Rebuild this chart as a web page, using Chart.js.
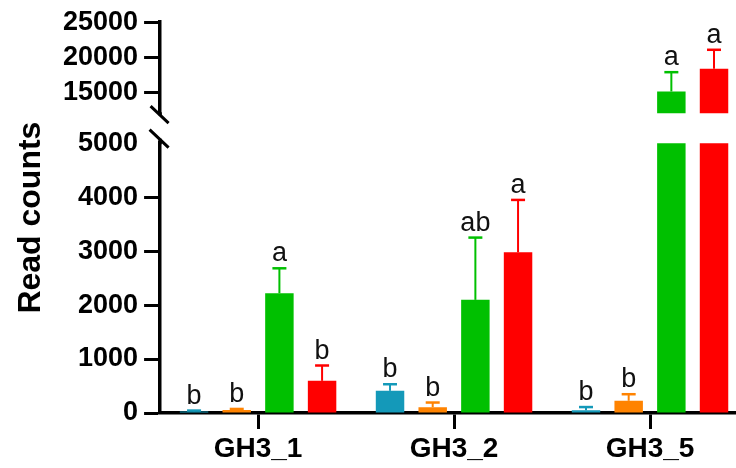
<!DOCTYPE html>
<html>
<head>
<meta charset="utf-8">
<script src="https://cdn.jsdelivr.net/npm/chart.js@4.4.1/dist/chart.umd.min.js"></script>
<style>
  html, body { margin: 0; padding: 0; background: #fff; overflow: hidden; }
  #wrap { width: 752px; height: 468px; }
</style>
</head>
<body>
<div id="wrap"><canvas id="myChart"></canvas></div>
<script>
// data
var categories = ["GH3_1", "GH3_2", "GH3_5"];

var teal = [30, 411, 50];
var tealErr = [15, 122, 60];
var tealSig = ["b", "b", "b"];

var orange = [55, 107, 226];
var orangeErr = [20, 87, 122];
var orangeSig = ["b", "b", "b"];

var green = [2219, 2096, 15100];
var greenErr = [462, 1154, 2757];
var greenSig = ["a", "ab", "a"];

var red = [596, 2978, 18343];
var redErr = [284, 970, 2714];
var redSig = ["b", "a", "a"];

var lowTicks = [0, 1000, 2000, 3000, 4000, 5000];
var highTicks = [15000, 20000, 25000];

// broken axis ranges
var lowMin = 0, lowMax = 5000;
var highMin = 12000, highMax = 25000;

var colors = ["#1499b9", "#ff8300", "#00c000", "#ff0000"];
var values = [teal, orange, green, red];
var errors = [tealErr, orangeErr, greenErr, redErr];
var letters = [tealSig, orangeSig, greenSig, redSig];

var datasets = [];
// lower part of every bar
for (var i = 0; i < 4; i++) {
  datasets.push({
    data: values[i],
    yAxisID: 'y',
    stack: 's' + i,
    backgroundColor: colors[i],
    borderWidth: 0
  });
}
// part above the break
for (var i = 0; i < 4; i++) {
  datasets.push({
    data: values[i].map(function (v) { return v > lowMax ? v : null; }),
    yAxisID: 'y2',
    stack: 's' + i,
    backgroundColor: colors[i],
    borderWidth: 0
  });
}

var boldTick = { family: 'Liberation Sans', weight: 'bold', size: 27 };

var extras = {
  id: 'extras',
  afterDatasetsDraw: function (chart) {
    var ctx = chart.ctx;
    ctx.save();
    // error bars and letters
    for (var i = 0; i < 4; i++) {
      for (var j = 0; j < categories.length; j++) {
        var v = values[i][j];
        var up = v > lowMax;
        var meta = chart.getDatasetMeta(up ? i + 4 : i);
        var scale = chart.scales[up ? 'y2' : 'y'];
        var x = meta.data[j].x;
        var y0 = scale.getPixelForValue(v);
        var y1 = scale.getPixelForValue(v + errors[i][j]);
        ctx.strokeStyle = colors[i];
        ctx.lineWidth = 2;
        ctx.beginPath();
        ctx.moveTo(x, y0);
        ctx.lineTo(x, y1);
        ctx.stroke();
        ctx.lineWidth = 2.5;
        ctx.beginPath();
        ctx.moveTo(x - 7, y1);
        ctx.lineTo(x + 7, y1);
        ctx.stroke();
        ctx.fillStyle = '#111';
        ctx.font = '27px "Liberation Sans", Arial, sans-serif';
        ctx.textAlign = 'center';
        ctx.textBaseline = 'alphabetic';
        ctx.fillText(letters[i][j], x, y1 - 7);
      }
    }
    // axis break marks
    var ya = chart.scales.y, yb = chart.scales.y2;
    var ax = chart.chartArea.left;
    ctx.strokeStyle = '#000';
    ctx.lineWidth = 3.5;
    ctx.beginPath();
    ctx.moveTo(ax, yb.bottom - 1);
    ctx.lineTo(ax, yb.bottom + 2);
    ctx.moveTo(ax, ya.top - 4.5);
    ctx.lineTo(ax, ya.top + 1);
    ctx.stroke();
    ctx.lineWidth = 3;
    ctx.beginPath();
    ctx.moveTo(ax - 9.5, yb.bottom - 7);
    ctx.lineTo(ax + 8.5, yb.bottom + 10);
    ctx.moveTo(ax - 10.5, ya.top - 13.5);
    ctx.lineTo(ax + 8.5, ya.top + 4.5);
    ctx.stroke();
    // y title, centred on the whole plot
    var area = chart.chartArea;
    ctx.translate(40, (area.top + area.bottom) / 2);
    ctx.rotate(-Math.PI / 2);
    ctx.fillStyle = '#000';
    ctx.font = 'bold 32px "Liberation Sans", Arial, sans-serif';
    ctx.textAlign = 'center';
    ctx.textBaseline = 'alphabetic';
    ctx.fillText('Read counts', 0, 0);
    ctx.restore();
  }
};

var ctx = document.getElementById('myChart').getContext('2d');
var myChart = new Chart(ctx, {
  type: 'bar',
  data: { labels: categories, datasets: datasets },
  options: {
    responsive: true,
    maintainAspectRatio: false,
    animation: false,
    categoryPercentage: 0.871,
    barPercentage: 0.667,
    layout: { padding: { left: 57, right: 4, top: 9.5, bottom: -1 } },
    plugins: { legend: { display: false }, tooltip: { enabled: false } },
    scales: {
      x: {
        grid: {
          offset: false,
          drawOnChartArea: false,
          tickLength: 16,
          tickWidth: 3,
          tickColor: '#000'
        },
        border: { color: '#000', width: 3.5 },
        ticks: {
          color: '#000',
          padding: 6,
          font: { family: 'Liberation Sans', weight: 'bold', size: 28, lineHeight: 1.0 }
        }
      },
      y: {
        stack: 'brk',
        stackWeight: 270,
        stacked: false,
        min: lowMin,
        max: lowMax,
        afterBuildTicks: function (s) {
          s.ticks = lowTicks.map(function (v) { return { value: v }; });
        },
        grid: {
          drawOnChartArea: false,
          tickLength: 16,
          tickWidth: 3,
          tickColor: function (c) { return c.tick && c.tick.value === lowMax ? 'rgba(0,0,0,0)' : '#000'; }
        },
        border: { color: '#000', width: 3.5 },
        ticks: {
          color: '#000',
          padding: 6,
          autoSkip: false,
          font: boldTick,
          callback: function (v) { return String(v); }
        }
      },
      ygap: {
        type: 'linear',
        stack: 'brk',
        stackWeight: 30,
        stacked: false,
        min: 0,
        max: 1,
        grid: { display: false },
        border: { display: false },
        ticks: { display: false }
      },
      y2: {
        type: 'linear',
        stack: 'brk',
        stackWeight: 91,
        stacked: false,
        min: highMin,
        max: highMax,
        afterBuildTicks: function (s) {
          s.ticks = highTicks.map(function (v) { return { value: v }; });
        },
        grid: {
          drawOnChartArea: false,
          tickLength: 16,
          tickWidth: 3,
          tickColor: '#000'
        },
        border: { color: '#000', width: 3.5 },
        ticks: {
          color: '#000',
          padding: 6,
          autoSkip: false,
          font: boldTick,
          callback: function (v) { return String(v); }
        }
      }
    }
  },
  plugins: [extras]
});
</script>
</body>
</html>
